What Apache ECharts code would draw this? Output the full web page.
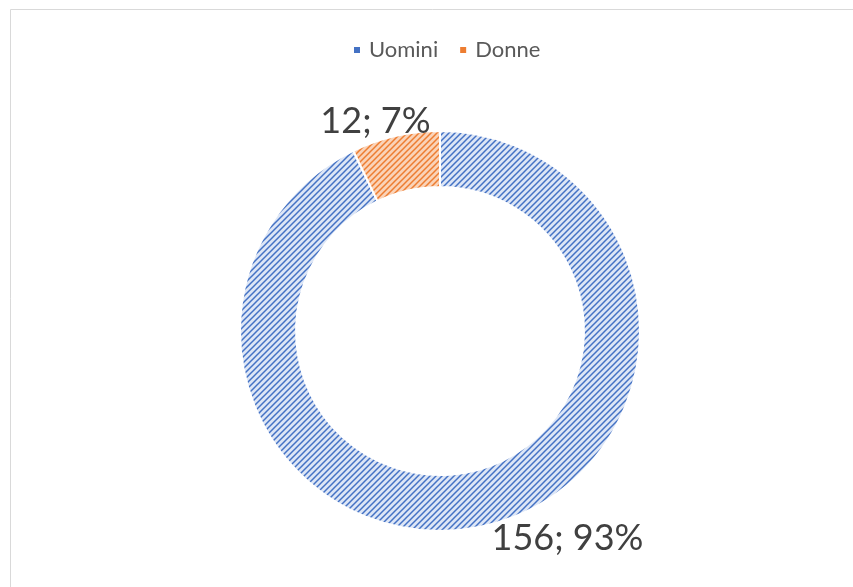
<!DOCTYPE html>
<html>
<head>
<meta charset="utf-8">
<script src="https://cdn.jsdelivr.net/npm/echarts@6/dist/echarts.min.js"></script>
<style>
  html, body { margin: 0; padding: 0; background: #fff; }
  #chart { width: 853px; height: 587px; }
</style>
</head>
<body>
<div id="chart"></div>
<script>
// data
const categories = ['Uomini', 'Donne'];
const counts = [156, 12];
const percents = [93, 7];
const baseColors = ['#4472c4', '#ed7d31'];
const lightColors = ['#dde6f6', '#fad3b8'];
// label nudges so they sit where the original placed them
const labelShift = [[2, 12], [40, -15]];

// hatch tile: "/" lines on a light background
function makeHatch(fg, bg) {
  const size = 6;
  const c = document.createElement('canvas');
  c.width = size;
  c.height = size;
  const ctx = c.getContext('2d');
  ctx.fillStyle = bg;
  ctx.fillRect(0, 0, size, size);
  ctx.strokeStyle = fg;
  ctx.lineWidth = 1.5;
  ctx.beginPath();
  ctx.moveTo(0, size); ctx.lineTo(size, 0);
  ctx.moveTo(-size / 2, size / 2); ctx.lineTo(size / 2, -size / 2);
  ctx.moveTo(size / 2, size * 1.5); ctx.lineTo(size * 1.5, size / 2);
  ctx.stroke();
  return c;
}

const chart = echarts.init(document.getElementById('chart'));

const pieData = categories.map((name, i) => ({
  name: name,
  value: counts[i],
  pct: percents[i],
  itemStyle: {
    color: { image: makeHatch(baseColors[i], lightColors[i]), repeat: 'repeat' }
  }
}));

chart.setOption({
  animation: false,
  graphic: [{
    type: 'rect',
    shape: { x: 10.5, y: 9.5, width: 900, height: 700 },
    style: { fill: 'none', stroke: '#d9d9d9', lineWidth: 1 },
    silent: true
  }],
  legend: {
    top: 34,
    left: 347,
    data: categories.map((name, i) => ({
      name: name,
      itemStyle: { color: baseColors[i] }
    })),
    icon: 'rect',
    itemWidth: 8,
    itemHeight: 8,
    itemGap: 20,
    textStyle: { fontFamily: 'Lato', fontSize: 22, color: '#595959', padding: [0, 0, 0, 3] }
  },
  series: [{
    type: 'pie',
    center: [440, 331],
    radius: [144, 200],
    startAngle: 90,
    clockwise: true,
    data: pieData,
    itemStyle: { borderColor: '#fff', borderWidth: 2 },
    label: {
      show: true,
      position: 'outside',
      formatter: p => p.value + '; ' + p.data.pct + '%',
      fontFamily: 'Lato',
      fontSize: 36,
      color: '#404040'
    },
    labelLine: { show: false, length: 0, length2: 0 },
    labelLayout: p => ({ dx: labelShift[p.dataIndex][0], dy: labelShift[p.dataIndex][1] }),
    emphasis: { disabled: true }
  }]
});
</script>
</body>
</html>
